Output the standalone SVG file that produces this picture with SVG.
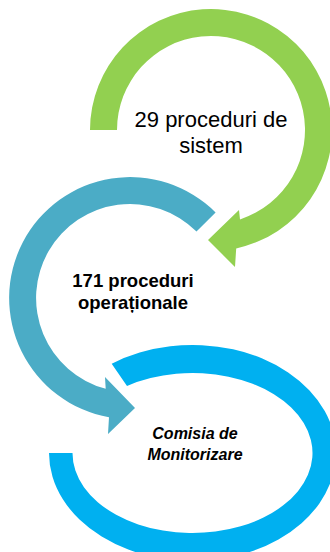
<svg xmlns="http://www.w3.org/2000/svg" width="330" height="552" viewBox="0 0 330 552">
  <style>
    .lbl { font-family: "Liberation Sans", Arial, sans-serif; fill: #000; text-anchor: middle; }
    .t1 { font-size: 22px; }
    .t2 { font-size: 18.5px; font-weight: bold; }
    .t3 { font-size: 16px; font-weight: bold; font-style: italic; }
  </style>
  <rect width="330" height="552" fill="#ffffff"/>
  <g id="node-sistem">
    <path fill="#92D050" d="M 90 130 A 121 121 0 1 1 236.2 248.4 L 235 267 L 208 240 L 239 210 L 240 219.4 A 94 94 0 1 0 117 130 Z"/>
    <text class="lbl t1" x="211" y="127">29 proceduri de</text>
    <text class="lbl t1" x="211" y="153">sistem</text>
  </g>
  <g id="node-operationale">
    <path fill="#4BACC6" d="M 215.6 212.4 A 121 121 0 1 0 109 417.2 L 108 434 L 135 408 L 105 377 L 105.7 388.8 A 94 94 0 1 1 196.5 231.5 Z"/>
    <text class="lbl t2" x="133" y="287">171 proceduri</text>
    <text class="lbl t2" x="133" y="309">operaționale</text>
  </g>
  <g id="node-comisia">
    <path fill="#00B0F0" d="M 111.7 363.7 A 143.5 108 0 1 1 49 453 L 72.5 453 A 120 80 0 1 0 127 386 Z"/>
    <text class="lbl t3" x="195" y="439">Comisia de</text>
    <text class="lbl t3" x="195" y="460">Monitorizare</text>
  </g>
  <g id="connectors"/>
</svg>
